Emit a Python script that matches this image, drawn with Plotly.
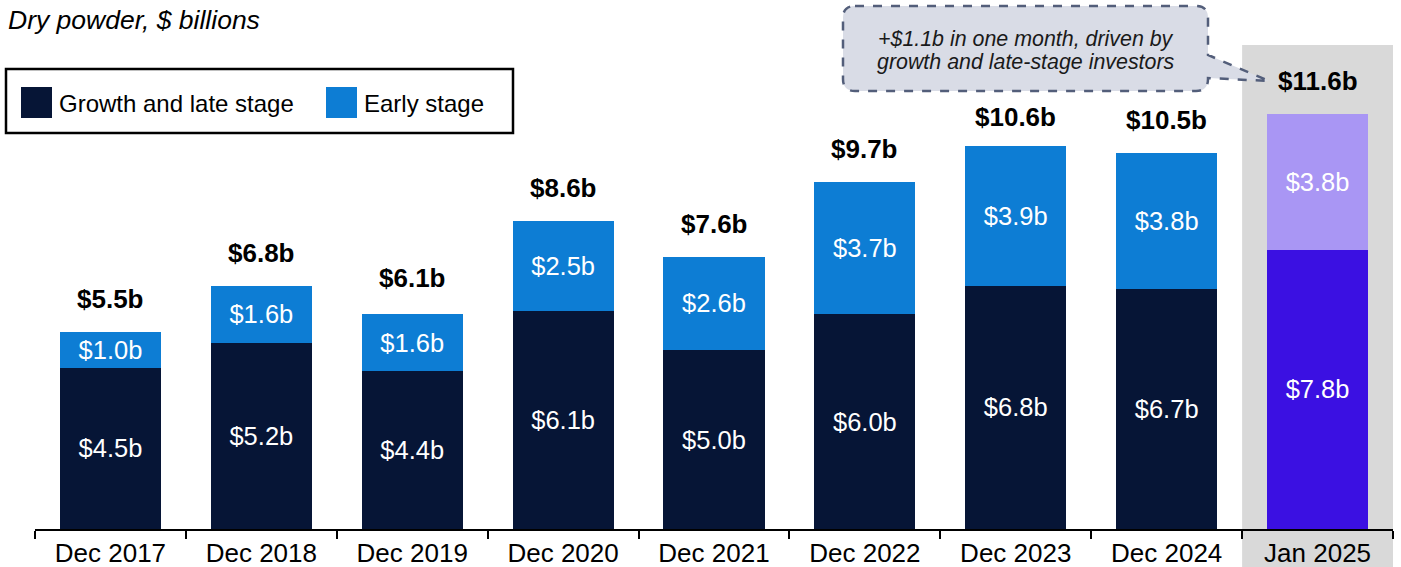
import plotly.graph_objects as go

categories = ["Dec 2017", "Dec 2018", "Dec 2019", "Dec 2020", "Dec 2021",
              "Dec 2022", "Dec 2023", "Dec 2024", "Jan 2025"]
growth_late = [4.5, 5.2, 4.4, 6.1, 5.0, 6.0, 6.8, 6.7, 7.8]
early_stage = [1.0, 1.6, 1.6, 2.5, 2.6, 3.7, 3.9, 3.8, 3.8]
totals = [5.5, 6.8, 6.1, 8.6, 7.6, 9.7, 10.6, 10.5, 11.6]

growth_labels = [f"${v:.1f}b" for v in growth_late]
early_labels = [f"${v:.1f}b" for v in early_stage]
total_labels = [f"${v:.1f}b" for v in totals]

NAVY = "#061536"
BLUE = "#0D7DD4"
PURPLE = "#3B10E2"
LAVENDER = "#A996F4"
FONT = "Arial, Liberation Sans, sans-serif"

W, H = 1401, 567
L, R, T, B = 35, 8, 45, 38
PW, PH = W - L - R, H - T - B
PX_PER_UNIT = 35.8
YMAX = PH / PX_PER_UNIT


def px(x):
    return (x - L) / PW


def py(y):
    return (H - B - y) / PH


n = len(categories)
growth_colors = [NAVY] * (n - 1) + [PURPLE]
early_colors = [BLUE] * (n - 1) + [LAVENDER]

fig = go.Figure()
fig.add_trace(go.Bar(
    x=categories, y=growth_late, name="Growth and late stage",
    marker=dict(color=growth_colors, line=dict(width=0)),
    text=growth_labels, textposition="inside", insidetextanchor="middle",
    textfont=dict(color="white", size=25.5, family=FONT),
    constraintext="none", hoverinfo="skip",
))
fig.add_trace(go.Bar(
    x=categories, y=early_stage, name="Early stage",
    marker=dict(color=early_colors, line=dict(width=0)),
    text=early_labels, textposition="inside", insidetextanchor="middle",
    textfont=dict(color="white", size=25.5, family=FONT),
    constraintext="none", hoverinfo="skip",
))

annotations = []
for c, t, lab in zip(categories, totals, total_labels):
    annotations.append(dict(
        x=c, y=t, xref="x", yref="y", text=f"<b>{lab}</b>", showarrow=False,
        yanchor="middle", yshift=33, font=dict(size=26, color="black", family=FONT),
    ))

# Title
annotations.append(dict(
    x=px(6), y=py(20), xref="paper", yref="paper", xanchor="left", yanchor="middle",
    text="<i>Dry powder, $ billions</i>", showarrow=False,
    font=dict(size=26.5, color="black", family=FONT),
))

# Legend texts
annotations.append(dict(
    x=px(57), y=py(103), xref="paper", yref="paper", xanchor="left", yanchor="middle",
    text="Growth and late stage", showarrow=False,
    font=dict(size=24, color="black", family=FONT),
))
annotations.append(dict(
    x=px(362), y=py(103), xref="paper", yref="paper", xanchor="left", yanchor="middle",
    text="Early stage", showarrow=False,
    font=dict(size=24, color="black", family=FONT),
))

# Callout texts
annotations.append(dict(
    x=px(1026), y=py(39), xref="paper", yref="paper", xanchor="center", yanchor="middle",
    text="<i>+$1.1b in one month, driven by</i>", showarrow=False,
    font=dict(size=21.4, color="#1a1a1a", family=FONT),
))
annotations.append(dict(
    x=px(1026), y=py(62), xref="paper", yref="paper", xanchor="center", yanchor="middle",
    text="<i>growth and late-stage investors</i>", showarrow=False,
    font=dict(size=21.4, color="#1a1a1a", family=FONT),
))

shapes = []
# Highlight background for last category
shapes.append(dict(
    type="rect", xref="x", yref="paper", x0=n - 1.5, x1=n - 0.5,
    y0=-B / PH, y1=1, fillcolor="#D9D9D9", line=dict(width=0), layer="below",
))
# Legend box
shapes.append(dict(
    type="rect", xref="paper", yref="paper", x0=px(6), x1=px(513), y0=py(133), y1=py(69),
    fillcolor="white", line=dict(color="black", width=2.5),
))
shapes.append(dict(
    type="rect", xref="paper", yref="paper", x0=px(21), x1=px(52), y0=py(118), y1=py(87),
    fillcolor=NAVY, line=dict(width=0),
))
shapes.append(dict(
    type="rect", xref="paper", yref="paper", x0=px(326), x1=px(357), y0=py(118), y1=py(87),
    fillcolor=BLUE, line=dict(width=0),
))

# Callout bubble (pixel coords converted to paper)
x0, x1, y0, y1, r = 843, 1208, 6, 91, 12
tip = (1269, 81)


def P(x, y):
    return f"{px(x):.5f},{py(y):.5f}"


path = (
    f"M {P(x0 + r, y0)} L {P(x1 - r, y0)} Q {P(x1, y0)} {P(x1, y0 + r)} "
    f"L {P(x1, 55)} L {P(*tip)} L {P(x1, 78)} "
    f"L {P(x1, y1 - r)} Q {P(x1, y1)} {P(x1 - r, y1)} "
    f"L {P(x0 + r, y1)} Q {P(x0, y1)} {P(x0, y1 - r)} "
    f"L {P(x0, y0 + r)} Q {P(x0, y0)} {P(x0 + r, y0)} Z"
)
shapes.append(dict(
    type="path", xref="paper", yref="paper", path=path,
    fillcolor="#D9DCE6", line=dict(color="#535E7A", width=2.5, dash="dash"),
    layer="below",
))

fig.update_layout(
    width=W, height=H,
    margin=dict(l=L, r=R, t=T, b=B, pad=0, autoexpand=False),
    barmode="stack", bargap=0.33,
    plot_bgcolor="rgba(0,0,0,0)", paper_bgcolor="white",
    showlegend=False,
    font=dict(family=FONT, color="black"),
    annotations=annotations, shapes=shapes,
    xaxis=dict(
        type="category", range=[-0.5, n - 0.5], automargin=False,
        showline=True, linecolor="black", linewidth=1.5,
        ticks="outside", tickson="boundaries", ticklen=8, tickwidth=1.5, tickcolor="black",
        tickfont=dict(size=26, color="black", family=FONT),
        showgrid=False, zeroline=False, fixedrange=True,
    ),
    yaxis=dict(
        range=[0, YMAX], visible=False, showgrid=False, zeroline=False, fixedrange=True,
        automargin=False,
    ),
)

fig.write_html(
    "out.html",
    config={"displayModeBar": False},
    post_script="document.body.style.margin='0';document.body.style.padding='0';",
)
